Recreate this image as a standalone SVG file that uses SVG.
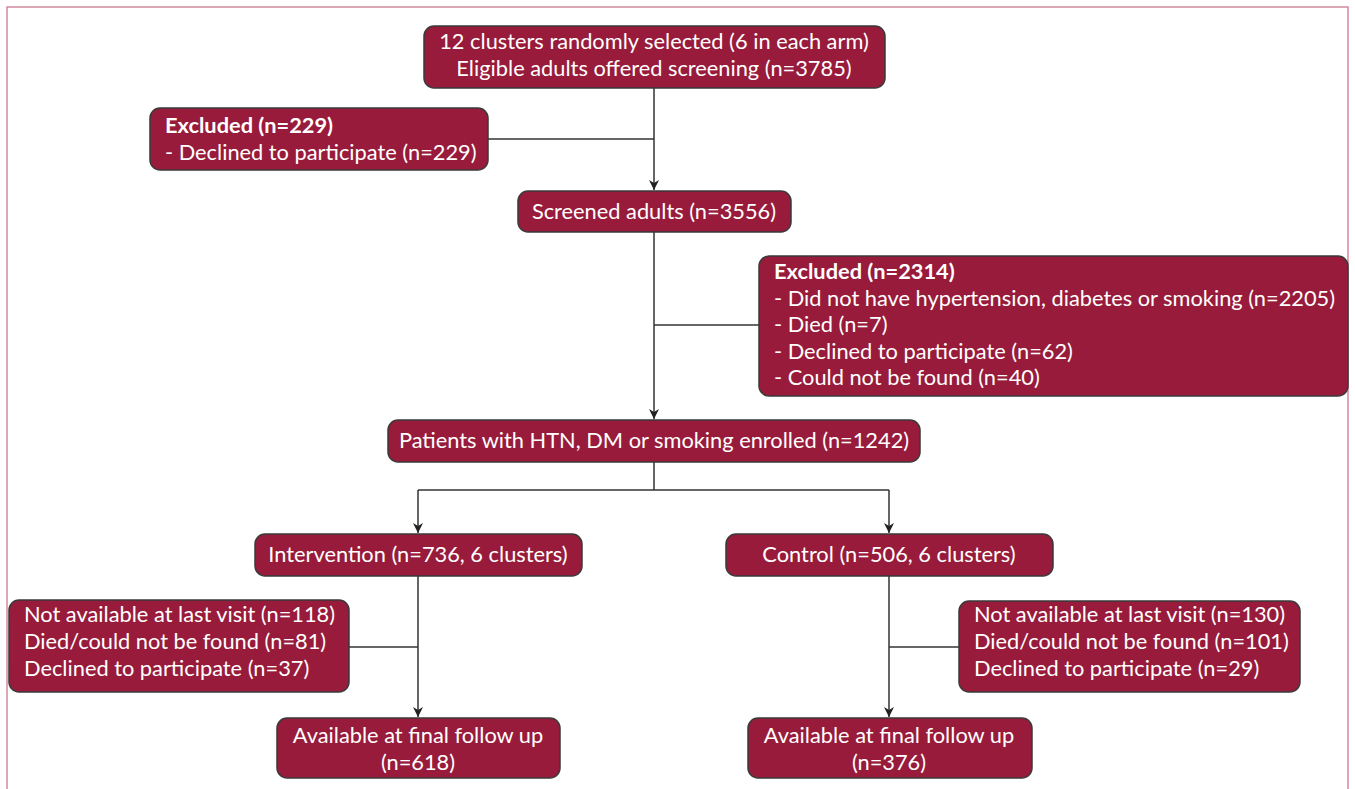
<svg xmlns="http://www.w3.org/2000/svg" width="1355" height="789" viewBox="0 0 1355 789">
<defs>
<style>
.box{fill:#981b3b;stroke:#3a3a3a;stroke-width:1.5}
.t{font-family:Lato,"Liberation Sans",sans-serif;font-size:21.8px;fill:#ffffff}
.c{text-anchor:middle}
.b{font-weight:bold}
.ln{stroke:#333;stroke-width:1.5;fill:none}
</style>
<marker id="ar" viewBox="0 0 10 10" refX="10" refY="5" markerWidth="10" markerHeight="10" markerUnits="userSpaceOnUse" orient="auto">
<path d="M0,0 L10,5 L0,10 L3,5 Z" fill="#222"/>
</marker>
</defs>
<rect x="0" y="0" width="1355" height="789" fill="#fff"/>
<path d="M7,789 V7 H1348 V789" fill="none" stroke="#d48a9e" stroke-width="1.5"/>
<g id="connectors">
<path class="ln" d="M654,88 V190" marker-end="url(#ar)"/>
<path class="ln" d="M488,139 H654"/>
<path class="ln" d="M654,232 V419" marker-end="url(#ar)"/>
<path class="ln" d="M654,325 H759"/>
<path class="ln" d="M654,462 V490"/>
<path class="ln" d="M418,490 V533" marker-end="url(#ar)"/>
<path class="ln" d="M889,490 V533" marker-end="url(#ar)"/>
<path class="ln" d="M418,490 H889"/>
<path class="ln" d="M418,576 V717" marker-end="url(#ar)"/>
<path class="ln" d="M349,647 H418"/>
<path class="ln" d="M889,576 V717" marker-end="url(#ar)"/>
<path class="ln" d="M889,647 H959"/>
</g>
<g id="n1">
<rect class="box" x="424" y="26" width="461" height="62" rx="10"/>
<text class="t c" x="654" y="49">12 clusters randomly selected (6 in each arm)</text>
<text class="t c" x="654" y="76">Eligible adults offered screening (n=3785)</text>
</g>
<g id="n2">
<rect class="box" x="150" y="108" width="338" height="62" rx="10"/>
<text class="t b" x="165" y="133">Excluded (n=229)</text>
<text class="t" x="165" y="160">- Declined to participate (n=229)</text>
</g>
<g id="n3">
<rect class="box" x="518" y="191" width="273" height="41" rx="10"/>
<text class="t c" x="654" y="219">Screened adults (n=3556)</text>
</g>
<g id="n4">
<rect class="box" x="759" y="256" width="589" height="140" rx="10"/>
<text class="t b" x="774" y="279">Excluded (n=2314)</text>
<text class="t" x="774" y="306">- Did not have hypertension, diabetes or smoking (n=2205)</text>
<text class="t" x="774" y="332">- Died (n=7)</text>
<text class="t" x="774" y="359">- Declined to participate (n=62)</text>
<text class="t" x="774" y="385">- Could not be found (n=40)</text>
</g>
<g id="n5">
<rect class="box" x="388" y="420" width="532" height="42" rx="10"/>
<text class="t c" x="654" y="448">Patients with HTN, DM or smoking enrolled (n=1242)</text>
</g>
<g id="n6">
<rect class="box" x="255" y="534" width="327" height="42" rx="10"/>
<text class="t c" x="418" y="562">Intervention (n=736, 6 clusters)</text>
</g>
<g id="n7">
<rect class="box" x="726" y="534" width="327" height="42" rx="10"/>
<text class="t c" x="889" y="562">Control (n=506, 6 clusters)</text>
</g>
<g id="n8">
<rect class="box" x="9" y="600" width="340" height="92" rx="10"/>
<text class="t" x="24" y="622">Not available at last visit (n=118)</text>
<text class="t" x="24" y="649">Died/could not be found (n=81)</text>
<text class="t" x="24" y="676">Declined to participate (n=37)</text>
</g>
<g id="n9">
<rect class="box" x="959" y="601" width="341" height="91" rx="10"/>
<text class="t" x="974" y="622">Not available at last visit (n=130)</text>
<text class="t" x="974" y="649">Died/could not be found (n=101)</text>
<text class="t" x="974" y="676">Declined to participate (n=29)</text>
</g>
<g id="n10">
<rect class="box" x="277" y="718" width="283" height="60" rx="10"/>
<text class="t c" x="418" y="743">Available at final follow up</text>
<text class="t c" x="418" y="770">(n=618)</text>
</g>
<g id="n11">
<rect class="box" x="748" y="718" width="284" height="60" rx="10"/>
<text class="t c" x="889" y="743">Available at final follow up</text>
<text class="t c" x="889" y="770">(n=376)</text>
</g>
</svg>
